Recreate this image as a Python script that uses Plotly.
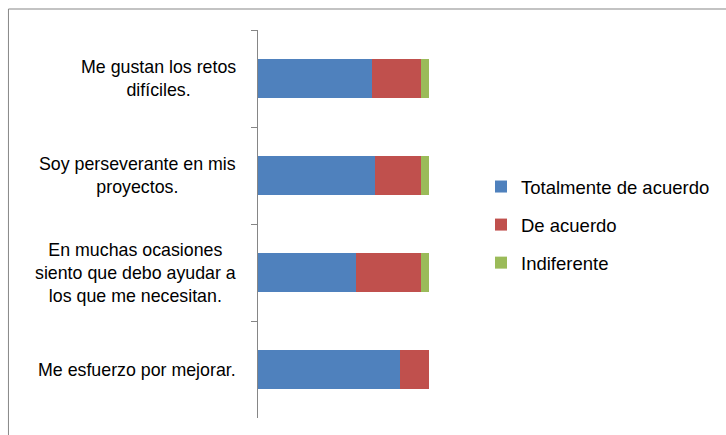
import plotly.graph_objects as go

categories = [
    "Me gustan los retos<br>difíciles.",
    "Soy perseverante en mis<br>proyectos.",
    "En muchas ocasiones<br>siento que debo ayudar a<br>los que me necesitan.",
    "Me esfuerzo por mejorar.",
]
series_names = ["Totalmente de acuerdo", "De acuerdo", "Indiferente"]
totalmente = [66.7, 68.2, 57.1, 83.3]
de_acuerdo = [28.6, 27.3, 38.1, 16.7]
indiferente = [4.7, 4.5, 4.8, 0.0]
colors = ["#4F81BD", "#C0504D", "#9BBB59"]

W, H = 726, 435
L, R, T, B = 258, 430, 30, 418  # plot area in pixels
pw = R - L
FONT = "Liberation Sans"

fig = go.Figure()
for name, vals, col in zip(series_names, [totalmente, de_acuerdo, indiferente], colors):
    fig.add_trace(go.Bar(
        y=categories, x=vals, name=name, orientation="h",
        marker=dict(color=col, line=dict(width=0)),
        width=0.41, legendgroup=name,
    ))

# category labels as centered multi-line annotations
for c in categories:
    fig.add_annotation(
        x=(238 - L) / pw, xref="paper", y=c, yref="y",
        text=c, showarrow=False, xanchor="right", align="center",
        font=dict(family=FONT, size=17.8, color="#000000"),
    )

# outer chart border
fig.add_shape(type="rect", xref="paper", yref="paper",
              x0=(7 - L) / pw, x1=(740 - L) / pw,
              y0=1 - (450 - T) / (B - T), y1=1 - (9 - T) / (B - T),
              line=dict(color="#878787", width=1), fillcolor="rgba(0,0,0,0)")

fig.update_layout(
    width=W, height=H,
    margin=dict(l=L, r=W - R, t=T, b=H - B),
    barmode="stack",
    plot_bgcolor="white", paper_bgcolor="white",
    showlegend=True,
    legend=dict(
        x=(481 - L) / pw, xanchor="left",
        y=1 - (225 - T) / (B - T), yanchor="middle",
        font=dict(family=FONT, size=18.5, color="#000000"),
        traceorder="grouped", tracegroupgap=11,
        bgcolor="rgba(0,0,0,0)",
    ),
    xaxis=dict(range=[0, 100], visible=False, fixedrange=True),
    yaxis=dict(
        autorange="reversed", showticklabels=False,
        showline=True, linecolor="#868686", linewidth=1,
        ticks="outside", ticklen=6, tickcolor="#868686",
        tickson="boundaries", showgrid=False, zeroline=False,
    ),
)

fig.write_html("out.html", config={"displayModeBar": False},
               post_script="document.body.style.margin='0';")
